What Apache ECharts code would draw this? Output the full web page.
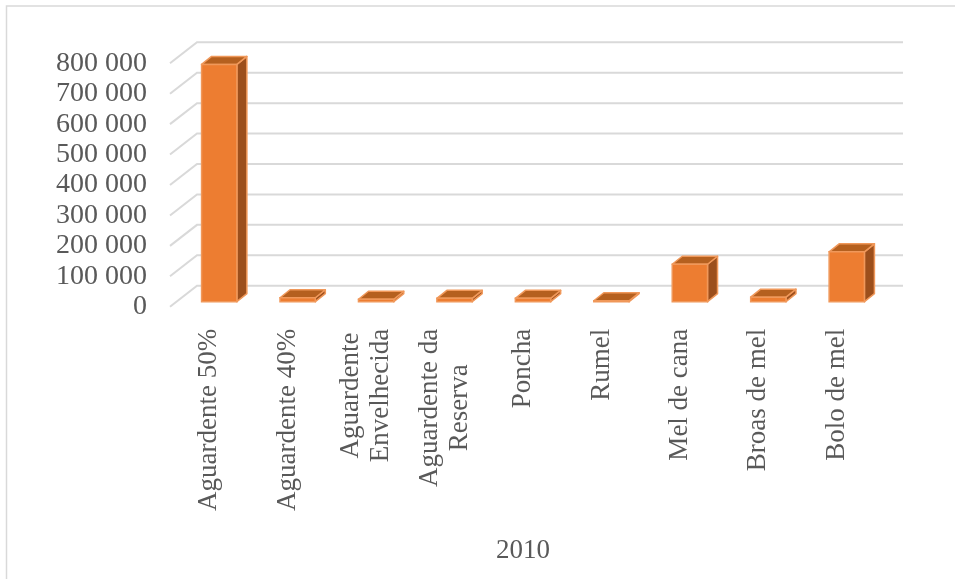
<!DOCTYPE html>
<html>
<head>
<meta charset="utf-8">
<script src="https://cdn.jsdelivr.net/npm/echarts@6/dist/echarts.min.js"></script>
<style>
html,body{margin:0;padding:0;background:#fff;}
#chart{width:955px;height:579px;}
</style>
</head>
<body>
<div id="chart"></div>
<script>
const categories = [
  ['Aguardente 50%'],
  ['Aguardente 40%'],
  ['Aguardente', 'Envelhecida'],
  ['Aguardente da', 'Reserva'],
  ['Poncha'],
  ['Rumel'],
  ['Mel de cana'],
  ['Broas de mel'],
  ['Bolo de mel']
];
const values2010 = [780000, 13000, 8000, 11000, 11000, 3000, 123000, 15000, 164000];
const yTicks = [0, 100000, 200000, 300000, 400000, 500000, 600000, 700000, 800000];
const yTickLabels = ['0', '100 000', '200 000', '300 000', '400 000', '500 000', '600 000', '700 000', '800 000'];
const axisTitle = '2010';

const FONT = '"Liberation Serif", "Times New Roman", serif';
const WALL_DX = 27, WALL_DY = -21;
const BAR_OX = 10, BAR_OY = -5, BAR_DX = 10, BAR_DY = -8;

const chart = echarts.init(document.getElementById('chart'), null, {renderer: 'canvas'});

const catNames = categories.map(c => c.join('\n'));

const option = {
  backgroundColor: '#ffffff',
  animation: false,
  graphic: [{
    type: 'rect',
    shape: {x: 6.5, y: 6, width: 1000, height: 1000},
    style: {fill: 'none', stroke: '#d9d9d9', lineWidth: 1.5},
    silent: true,
    z: -10
  }],
  grid: {left: 170, right: 79, top: 63.3, bottom: 272.3, containLabel: false},
  xAxis: {
    type: 'category',
    data: catNames,
    axisLine: {show: false},
    axisTick: {show: false},
    splitLine: {show: false},
    axisLabel: {
      interval: 0,
      rotate: 90,
      margin: 22,
      color: '#595959',
      fontFamily: FONT,
      fontSize: 27,
      formatter: function (v) {
        return v.split('\n').map(s => '{c|' + s + '}').join('\n');
      },
      rich: {
        c: {align: 'center', fontFamily: FONT, fontSize: 27, color: '#595959', lineHeight: 30}
      }
    },
    name: axisTitle,
    nameLocation: 'middle',
    nameGap: 231,
    nameTextStyle: {color: '#595959', fontFamily: FONT, fontSize: 27}
  },
  yAxis: {
    type: 'value',
    min: 0,
    max: 800000,
    interval: 100000,
    axisLine: {show: false},
    axisTick: {show: false},
    splitLine: {show: false},
    axisLabel: {
      margin: 23,
      color: '#595959',
      fontFamily: FONT,
      fontSize: 28,
      formatter: function (v) {
        const i = yTicks.indexOf(v);
        return i >= 0 ? yTickLabels[i] : '';
      }
    }
  },
  series: [
    {
      type: 'custom',
      name: 'walls',
      silent: true,
      z: 1,
      data: yTicks.map(v => [0, v]),
      renderItem: function (params, api) {
        const cs = params.coordSys;
        const y = api.coord([0, api.value(1)])[1];
        const x0 = cs.x;
        return {
          type: 'polyline',
          shape: {points: [[x0, y], [x0 + WALL_DX, y + WALL_DY], [x0 + cs.width + WALL_DX, y + WALL_DY]]},
          style: {fill: null, stroke: '#d9d9d9', lineWidth: 2}
        };
      }
    },
    {
      type: 'custom',
      name: '2010',
      z: 5,
      data: values2010.map((v, i) => [i, v]),
      renderItem: function (params, api) {
        const idx = api.value(0);
        const p0 = api.coord([idx, 0]);
        const p1 = api.coord([idx, api.value(1)]);
        const bw = api.size([1, 0])[0] * 0.45;
        const xl = p0[0] - bw / 2 + BAR_OX;
        const xr = xl + bw;
        const yb = p0[1] + BAR_OY;
        const yt = p1[1] + BAR_OY;
        const stroke = '#F0985A';
        return {
          type: 'group',
          children: [
            {
              type: 'polygon',
              shape: {points: [[xr, yt], [xr + BAR_DX, yt + BAR_DY], [xr + BAR_DX, yb + BAR_DY], [xr, yb]]},
              style: {fill: '#9C4F1C', stroke: stroke, lineWidth: 1.5, lineJoin: 'round'}
            },
            {
              type: 'polygon',
              shape: {points: [[xl, yt], [xl + BAR_DX, yt + BAR_DY], [xr + BAR_DX, yt + BAR_DY], [xr, yt]]},
              style: {fill: '#B5601F', stroke: stroke, lineWidth: 1.5, lineJoin: 'round'}
            },
            {
              type: 'rect',
              shape: {x: xl, y: yt, width: bw, height: yb - yt},
              style: {fill: '#ED7D31', stroke: stroke, lineWidth: 1.5}
            }
          ]
        };
      }
    }
  ]
};
chart.setOption(option);
</script>
</body>
</html>
